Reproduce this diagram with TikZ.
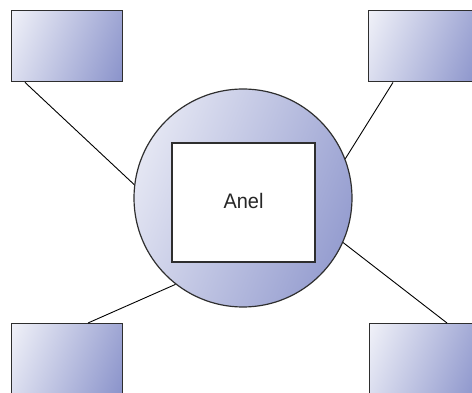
\documentclass[tikz,border=0pt]{standalone}
\usepackage{fontspec}
\setmainfont{Liberation Sans}
\usetikzlibrary{calc}
\definecolor{shadeblue}{HTML}{6E79BE}
\definecolor{edgegray}{HTML}{2E2E2E}
\pgfdeclarehorizontalshading{fadeblue}{100bp}{color(0bp)=(white); color(8bp)=(white); color(100bp)=(shadeblue)}
\begin{document}
\begin{tikzpicture}[x=1pt,y=-1pt,
  box/.style={draw=edgegray, line width=1.4pt, shading=fadeblue, shading angle=-22,
    minimum width=111pt, minimum height=71pt, inner sep=0pt, anchor=north west},
  ring/.style={circle, draw=edgegray, line width=1.2pt, shading=fadeblue, shading angle=-22,
    minimum size=218pt, inner sep=0pt},
  core/.style={draw=edgegray, line width=1.4pt, fill=white, minimum width=143pt, minimum height=119pt, inner sep=0pt},
  link/.style={draw=black, line width=0.9pt}]
\useasboundingbox (0,0) rectangle (472,393);
\clip (0,0) rectangle (472,393);
\node[box] (tl) at (11,10) {};
\node[box] (tr) at (368,10) {};
\node[box] (bl) at (11,323) {};
\node[box] (br) at (369,323) {};
\node[ring] (ring) at (243,198) {};
\node[core, text=black!85, font=\fontsize{21}{22}\selectfont] (anel) at (243.5,202.5) {\raisebox{3.5pt}{\scalebox{0.95}[1]{Anel}}};
\draw[link] ($(tl.south west)+(14,0)$) -- (ring.173.7);
\draw[link] ($(tr.south west)+(25,0)$) -- (ring.21.6);
\draw[link] ($(bl.north west)+(77,0)$) -- (ring.232);
\draw[link] ($(br.north west)+(78,0)$) -- (ring.336.5);
\end{tikzpicture}
\end{document}
